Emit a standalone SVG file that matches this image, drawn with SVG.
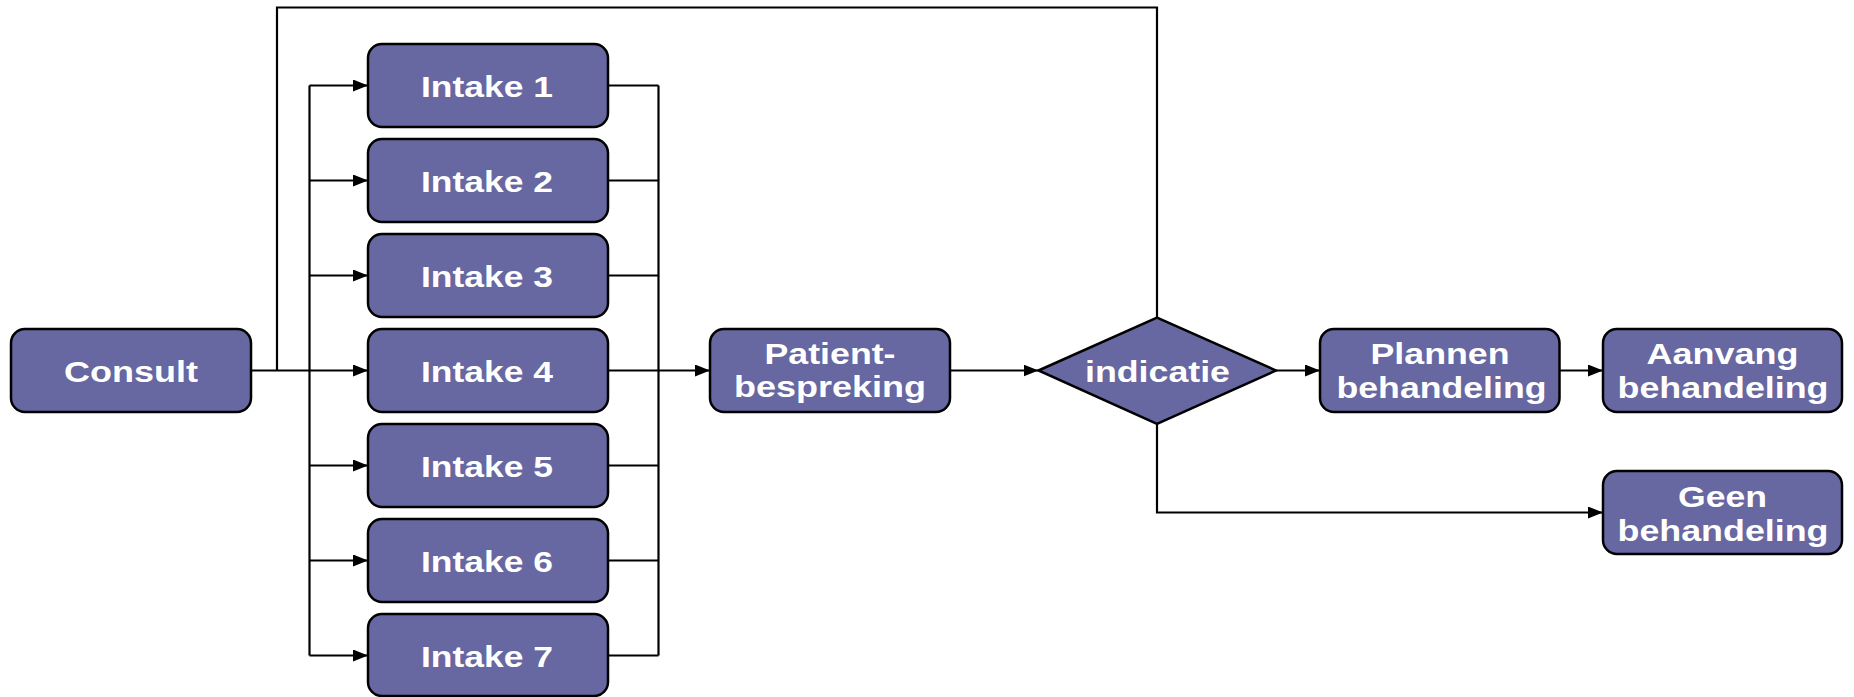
<svg xmlns="http://www.w3.org/2000/svg" width="1854" height="697" viewBox="0 0 1854 697">
<style>
.box{fill:#6767a1;stroke:#000;stroke-width:2.5}
.lbl{font-family:"Liberation Sans",Arial,sans-serif;font-weight:bold;font-size:30px;fill:#fff;text-anchor:middle}
.ln{fill:none;stroke:#000;stroke-width:2.2}
.arr{marker-end:url(#ah)}
</style>
<defs>
<marker id="ah" markerUnits="userSpaceOnUse" markerWidth="16" markerHeight="12" refX="15" refY="6" orient="auto">
<path d="M0,0 L15,6 L0,12 z" fill="#000"/>
</marker>
</defs>
<rect width="1854" height="697" fill="#fff"/>
<g id="connectors">
<path class="ln" d="M277,370.5 V7.5 H1157 V317.7"/>
<path class="ln arr" d="M251,370.5 H368"/>
<path class="ln" d="M309.5,85.5 V655.5"/>
<path class="ln arr" d="M309.5,85.5 H368"/>
<path class="ln arr" d="M309.5,180.5 H368"/>
<path class="ln arr" d="M309.5,275.5 H368"/>
<path class="ln arr" d="M309.5,465.5 H368"/>
<path class="ln arr" d="M309.5,560.5 H368"/>
<path class="ln arr" d="M309.5,655.5 H368"/>
<path class="ln" d="M608,85.5 H658.5"/>
<path class="ln" d="M608,180.5 H658.5"/>
<path class="ln" d="M608,275.5 H658.5"/>
<path class="ln" d="M608,370.5 H658.5"/>
<path class="ln" d="M608,465.5 H658.5"/>
<path class="ln" d="M608,560.5 H658.5"/>
<path class="ln" d="M608,655.5 H658.5"/>
<path class="ln" d="M658.5,85.5 V655.5"/>
<path class="ln arr" d="M658.5,370.5 H710"/>
<path class="ln arr" d="M950,370.5 H1038.5"/>
<path class="ln arr" d="M1276,370.5 H1320"/>
<path class="ln arr" d="M1559.5,370.5 H1603"/>
<path class="ln arr" d="M1157,424 V512.5 H1603"/>
</g>
<g id="consult">
<rect class="box" x="11" y="329" width="240" height="83" rx="14"/>
<text class="lbl" x="131" y="381.5" textLength="134" lengthAdjust="spacingAndGlyphs">Consult</text>
</g>
<g id="intake1">
<rect class="box" x="368" y="44" width="240" height="83" rx="14"/>
<text class="lbl" x="487" y="97" textLength="132" lengthAdjust="spacingAndGlyphs">Intake 1</text>
</g>
<g id="intake2">
<rect class="box" x="368" y="139" width="240" height="83" rx="14"/>
<text class="lbl" x="487" y="192" textLength="132" lengthAdjust="spacingAndGlyphs">Intake 2</text>
</g>
<g id="intake3">
<rect class="box" x="368" y="234" width="240" height="83" rx="14"/>
<text class="lbl" x="487" y="287" textLength="132" lengthAdjust="spacingAndGlyphs">Intake 3</text>
</g>
<g id="intake4">
<rect class="box" x="368" y="329" width="240" height="83" rx="14"/>
<text class="lbl" x="487" y="382" textLength="132" lengthAdjust="spacingAndGlyphs">Intake 4</text>
</g>
<g id="intake5">
<rect class="box" x="368" y="424" width="240" height="83" rx="14"/>
<text class="lbl" x="487" y="477" textLength="132" lengthAdjust="spacingAndGlyphs">Intake 5</text>
</g>
<g id="intake6">
<rect class="box" x="368" y="519" width="240" height="83" rx="14"/>
<text class="lbl" x="487" y="572" textLength="132" lengthAdjust="spacingAndGlyphs">Intake 6</text>
</g>
<g id="intake7">
<rect class="box" x="368" y="614" width="240" height="82" rx="14"/>
<text class="lbl" x="487" y="667" textLength="132" lengthAdjust="spacingAndGlyphs">Intake 7</text>
</g>
<g id="patientbespreking">
<rect class="box" x="710" y="329" width="240" height="83" rx="14"/>
<text class="lbl" x="830" y="363.5" textLength="131" lengthAdjust="spacingAndGlyphs">Patient-</text>
<text class="lbl" x="830" y="397" textLength="192" lengthAdjust="spacingAndGlyphs">bespreking</text>
</g>
<g id="indicatie">
<polygon class="box" points="1038.5,370.5 1157,317.7 1276,370.5 1157,424"/>
<text class="lbl" x="1157.5" y="381.5" textLength="145" lengthAdjust="spacingAndGlyphs">indicatie</text>
</g>
<g id="plannen">
<rect class="box" x="1320" y="329" width="239.5" height="83" rx="14"/>
<text class="lbl" x="1440" y="364" textLength="139" lengthAdjust="spacingAndGlyphs">Plannen</text>
<text class="lbl" x="1441.5" y="398" textLength="210" lengthAdjust="spacingAndGlyphs">behandeling</text>
</g>
<g id="aanvang">
<rect class="box" x="1603" y="329" width="239" height="83" rx="14"/>
<text class="lbl" x="1722.5" y="364" textLength="152" lengthAdjust="spacingAndGlyphs">Aanvang</text>
<text class="lbl" x="1723" y="398" textLength="211" lengthAdjust="spacingAndGlyphs">behandeling</text>
</g>
<g id="geen">
<rect class="box" x="1603" y="471" width="239" height="83" rx="14"/>
<text class="lbl" x="1722.5" y="506.5" textLength="89" lengthAdjust="spacingAndGlyphs">Geen</text>
<text class="lbl" x="1723" y="541" textLength="211" lengthAdjust="spacingAndGlyphs">behandeling</text>
</g>
</svg>
